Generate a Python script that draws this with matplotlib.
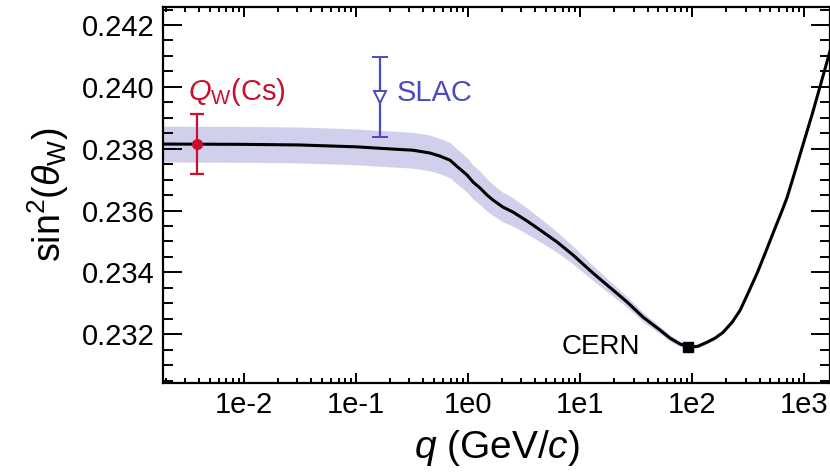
import matplotlib
matplotlib.use('Agg')
import matplotlib.pyplot as plt
import matplotlib.ticker as mticker
import numpy as np

plt.rcParams['font.family'] = ['Liberation Sans', 'DejaVu Sans']
plt.rcParams['mathtext.fontset'] = 'custom'
plt.rcParams['mathtext.rm'] = 'Liberation Sans'
plt.rcParams['mathtext.it'] = 'Liberation Sans:italic'

# running weak mixing angle
q = [0.0019, 0.01, 0.0316, 0.1, 0.232, 0.323, 0.458, 0.562, 0.690, 0.814,
     0.980, 1.11, 1.28, 1.48, 1.67, 2.05, 2.52, 3.37, 4.40, 6.24,
     8.66, 13.1, 26.3, 36.5, 51.8, 63.6, 78.2, 96.0, 113, 136,
     160, 189, 228, 268, 316, 380, 449, 528, 637, 705,
     831, 980, 1180, 1390, 1710]
sin2 = [0.23815, 0.23814, 0.23812, 0.23806, 0.23798, 0.23795, 0.23786, 0.23776, 0.23763, 0.23740,
        0.23715, 0.23692, 0.23673, 0.23650, 0.23634, 0.23611, 0.23595, 0.23566, 0.23537, 0.23498,
        0.23456, 0.23397, 0.23304, 0.23255, 0.23213, 0.23187, 0.23168, 0.23158, 0.23161, 0.23174,
        0.23187, 0.23206, 0.23239, 0.23277, 0.23333, 0.23397, 0.23462, 0.23527, 0.23601, 0.23643,
        0.23728, 0.23815, 0.23912, 0.24003, 0.24119]
band = [0.00058, 0.00058, 0.00058, 0.00058, 0.00058, 0.00058, 0.00058, 0.00057, 0.00057, 0.00056,
        0.00056, 0.00055, 0.00054, 0.00052, 0.00050, 0.00048, 0.00046, 0.00042, 0.00038, 0.00033,
        0.00029, 0.00024, 0.00017, 0.00015, 0.00012, 0.00010, 0.00008, 0.00006, 0.00005, 0.00005,
        0.00004, 0.00004, 0.00003, 0.00003, 0.00002, 0.00002, 0.00001, 0.00001, 0.0, 0.0,
        0.0, 0.0, 0.0, 0.0, 0.0]

# measurements
cs_q, cs_val, cs_err = 0.0038, 0.23816, 0.00097
slac_q, slac_val, slac_err = 0.164, 0.23968, 0.00129
cern_q, cern_val = 91.19, 0.23160

xticks = [1e-2, 1e-1, 1e0, 1e1, 1e2, 1e3]
yticks = [0.232, 0.234, 0.236, 0.238, 0.240, 0.242]

red = '#c8102e'
blue = '#4b4bbf'

q = np.array(q)
sin2 = np.array(sin2)
band = np.array(band)

fig = plt.figure(figsize=(8.3, 4.74), dpi=100)
ax = fig.add_axes([0.1964, 0.192, 0.8036, 0.793])

ax.fill_between(q, sin2 - band, sin2 + band, color='#d0d0ec', lw=0, zorder=1)
ax.plot(q, sin2, color='black', lw=2.2, zorder=3, solid_joinstyle='round')

ax.errorbar(cs_q, cs_val, yerr=cs_err, fmt='o', color=red, ms=7, elinewidth=1.6,
            capsize=5, capthick=1.6, zorder=4)
ax.errorbar(slac_q, slac_val, yerr=slac_err, fmt='v', color=blue, mfc='white', mec=blue,
            ms=8, mew=1.4, elinewidth=1.6, capsize=5.5, capthick=1.6, zorder=4)
ax.plot(cern_q, cern_val, 's', color='black', ms=7, zorder=5)

ax.text(0.00316, 0.23983, r'$Q_{\mathrm{W}}$(Cs)', color=red, fontsize=21, ha='left', va='center')
ax.text(0.232, 0.23980, 'SLAC', color=blue, fontsize=21, ha='left', va='center')
ax.text(34.4, 0.23157, 'CERN', color='black', fontsize=20, ha='right', va='center')

ax.set_xscale('log')
ax.set_xlim(0.0019, 1700)
ax.set_ylim(0.23042, 0.24258)
ax.set_xticks(xticks)
ax.xaxis.set_major_formatter(mticker.FuncFormatter(lambda v, p: '1e%d' % round(np.log10(v))))
ax.xaxis.set_minor_locator(mticker.LogLocator(base=10, subs=np.arange(2, 10)))
ax.xaxis.set_minor_formatter(mticker.NullFormatter())
ax.set_yticks(yticks)
ax.yaxis.set_major_formatter(mticker.FormatStrFormatter('%.3f'))
ax.yaxis.set_minor_locator(mticker.MultipleLocator(0.0005))

for s in ax.spines.values():
    s.set_linewidth(1.6)

ax.tick_params(axis='both', which='both', direction='in', top=True, right=True,
               labelsize=21, width=1.4, pad=6)
ax.tick_params(axis='y', which='major', length=14)
ax.tick_params(axis='y', which='minor', length=7)
ax.tick_params(axis='x', which='major', length=7)
ax.tick_params(axis='x', which='minor', length=3.5)

ax.set_xlabel(r'$q$ (GeV/$c$)', fontsize=28, labelpad=6)
ax.set_ylabel(r'sin$^2$($\theta_{\mathrm{W}}$)', fontsize=27, labelpad=8)

plt.savefig('out.png', dpi=100)
print('Plot Saved as out.png')
